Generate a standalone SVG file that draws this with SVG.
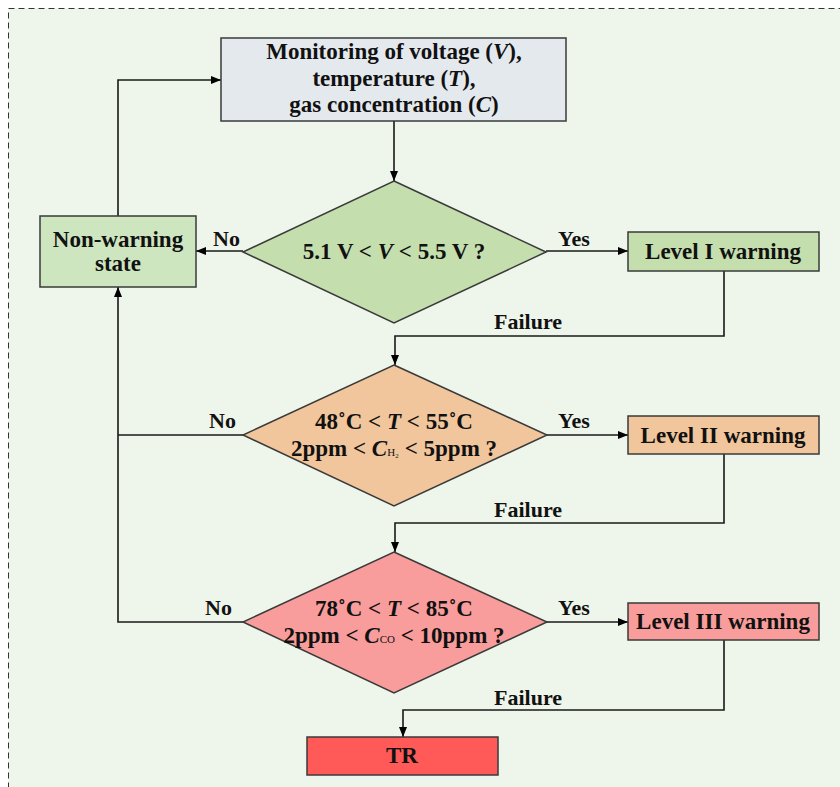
<svg xmlns="http://www.w3.org/2000/svg" width="840" height="787" viewBox="0 0 840 787">
<defs>
<marker id="ah" viewBox="0 0 10 10" refX="10" refY="5" markerWidth="10" markerHeight="10" markerUnits="userSpaceOnUse" orient="auto">
<path d="M0,1 L10,5 L0,9 Z" fill="#000"/>
</marker>
</defs>
<style>
text{font-family:"Liberation Serif","Times New Roman",serif;font-weight:bold;font-size:23px;fill:#111}
.lbl{font-size:22px}
.c{text-anchor:middle}
.box{stroke:#3a3a3a;stroke-width:1.5}
.con{fill:none;stroke:#1a1a1a;stroke-width:1.6}
.arr{marker-end:url(#ah)}
.it{font-style:italic}
.sub{font-size:11px;font-weight:normal;font-style:normal}
</style>
<rect x="8.5" y="8.5" width="850" height="800" fill="#EEF5EA" stroke="#333" stroke-width="1" stroke-dasharray="6,4"/>

<g id="connectors">
<path class="con arr" d="M394,121 V181"/>
<path class="con arr" d="M243,251 H196"/>
<path class="con arr" d="M546,251 H628"/>
<path class="con arr" d="M724,271 V336 H395 V365"/>
<path class="con" d="M243,435 H118"/>
<path class="con arr" d="M547,435 H628"/>
<path class="con arr" d="M724,454 V523 H395 V552"/>
<path class="con arr" d="M243,622 H118 V287"/>
<path class="con arr" d="M547,622 H628"/>
<path class="con arr" d="M724,640 V710 H403 V737"/>
<path class="con arr" d="M118,216 V80 H221"/>
<text class="lbl" x="213" y="246">No</text>
<text class="lbl" x="558" y="246">Yes</text>
<text class="lbl" x="494" y="329">Failure</text>
<text class="lbl" x="209" y="428">No</text>
<text class="lbl" x="558" y="428">Yes</text>
<text class="lbl" x="494" y="517">Failure</text>
<text class="lbl" x="205" y="615">No</text>
<text class="lbl" x="558" y="615">Yes</text>
<text class="lbl" x="494" y="705">Failure</text>
</g>

<g id="monitor">
<rect class="box" x="221" y="38" width="345" height="83" fill="#E4E9EE"/>
<text class="c" x="394" y="59">Monitoring of voltage (<tspan class="it">V</tspan>),</text>
<text class="c" x="394" y="86">temperature (<tspan class="it">T</tspan>),</text>
<text class="c" x="394" y="112">gas concentration (<tspan class="it">C</tspan>)</text>
</g>

<g id="nonwarning">
<rect class="box" x="40" y="216" width="156" height="71" fill="#CDE6C0"/>
<text class="c" x="118" y="247">Non-warning</text>
<text class="c" x="118" y="271">state</text>
</g>

<g id="decision1">
<polygon class="box" points="394,181 546,252 394,323 243,252" fill="#C4DEAE"/>
<text class="c" x="394" y="259">5.1 V &lt; <tspan class="it">V</tspan> &lt; 5.5 V ?</text>
</g>

<g id="level1">
<rect class="box" x="628" y="232" width="191" height="39" fill="#C4DEAE"/>
<text class="c" x="723" y="259">Level I warning</text>
</g>

<g id="decision2">
<polygon class="box" points="394,365 547,435 394,506 243,435" fill="#F2C69C"/>
<text class="c" x="394" y="429">48˚C &lt; <tspan class="it">T</tspan> &lt; 55˚C</text>
<text class="c" x="394" y="456">2ppm &lt; <tspan class="it">C</tspan><tspan class="sub">H₂</tspan> &lt; 5ppm ?</text>
</g>

<g id="level2">
<rect class="box" x="628" y="416" width="191" height="38" fill="#F2C69C"/>
<text class="c" x="723" y="443">Level II warning</text>
</g>

<g id="decision3">
<polygon class="box" points="394,552 547,622 394,693 243,622" fill="#F89D9B"/>
<text class="c" x="394" y="616">78˚C &lt; <tspan class="it">T</tspan> &lt; 85˚C</text>
<text class="c" x="394" y="643">2ppm &lt; <tspan class="it">C</tspan><tspan class="sub">CO</tspan> &lt; 10ppm ?</text>
</g>

<g id="level3">
<rect class="box" x="628" y="603" width="191" height="37" fill="#F89D9B"/>
<text class="c" x="723" y="629">Level III warning</text>
</g>

<g id="tr">
<rect class="box" x="307" y="737" width="191" height="38" fill="#FF5A58"/>
<text class="c" x="402" y="763">TR</text>
</g>
</svg>
